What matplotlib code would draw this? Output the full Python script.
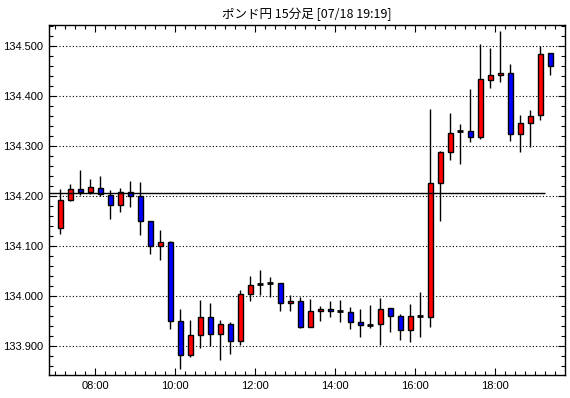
import matplotlib
matplotlib.use("Agg")
import matplotlib.pyplot as plt
import numpy as np
import pandas as pd
from matplotlib.ticker import MultipleLocator, FixedLocator

title = "ポンド円 15分足 [07/18 19:19]"
times = pd.date_range("2024-07-18 07:00", periods=50, freq="15min")
opens = [134.137, 134.193, 134.215, 134.209, 134.217, 134.203, 134.183, 134.209, 134.201, 134.151,
         134.101, 134.109, 133.951, 133.882, 133.923, 133.959, 133.925, 133.945, 133.911, 134.005,
         134.024, 134.026, 134.027, 133.987, 133.991, 133.939, 133.971, 133.975, 133.970, 133.969,
         133.949, 133.943, 133.945, 133.977, 133.961, 133.933, 133.960, 133.959, 134.227, 134.289,
         134.330, 134.331, 134.319, 134.433, 134.443, 134.447, 134.325, 134.347, 134.362, 134.487]
highs = [134.215, 134.224, 134.252, 134.234, 134.241, 134.212, 134.217, 134.230, 134.229, 134.151,
         134.132, 134.111, 133.975, 133.953, 133.992, 133.987, 133.952, 133.949, 134.012, 134.040,
         134.052, 134.038, 134.027, 134.002, 133.999, 133.995, 133.980, 133.990, 133.992, 133.979,
         133.975, 133.983, 133.997, 133.977, 133.965, 133.985, 134.009, 134.374, 134.291, 134.367,
         134.344, 134.414, 134.504, 134.497, 134.530, 134.465, 134.363, 134.372, 134.501, 134.487]
lows = [134.125, 134.191, 134.203, 134.205, 134.200, 134.155, 134.169, 134.179, 134.123, 134.085,
        134.073, 133.935, 133.855, 133.879, 133.897, 133.901, 133.873, 133.885, 133.902, 133.991,
        134.002, 133.998, 133.971, 133.971, 133.937, 133.939, 133.951, 133.959, 133.949, 133.934,
        133.919, 133.937, 133.902, 133.929, 133.913, 133.909, 133.919, 133.939, 134.151, 134.272,
        134.265, 134.309, 134.315, 134.417, 134.429, 134.311, 134.289, 134.299, 134.353, 134.442]
closes = [134.193, 134.215, 134.209, 134.217, 134.204, 134.183, 134.209, 134.201, 134.151, 134.101,
          134.109, 133.951, 133.882, 133.923, 133.959, 133.925, 133.945, 133.911, 134.005, 134.023,
          134.024, 134.026, 133.987, 133.991, 133.939, 133.971, 133.975, 133.971, 133.970, 133.949,
          133.943, 133.943, 133.975, 133.961, 133.933, 133.961, 133.960, 134.227, 134.289, 134.327,
          134.330, 134.319, 134.434, 134.443, 134.447, 134.325, 134.347, 134.361, 134.485, 134.461]
ref_level = 134.207
ref_end = "19:15"
x_tick_labels = ["08:00", "10:00", "12:00", "14:00", "16:00", "18:00"]
y_tick_values = [133.9, 134.0, 134.1, 134.2, 134.3, 134.4, 134.5]

def to_min(s):
    h, m = s.split(":")
    return int(h) * 60 + int(m)

fig = plt.figure(figsize=(5.70, 3.98), dpi=100)
ax = fig.add_axes([49 / 570, 23 / 398, 516 / 570, 350 / 398])

x = np.array([t.hour * 60 + t.minute + 7.5 for t in times])
o = np.array(opens); h = np.array(highs); l = np.array(lows); c = np.array(closes)

ax.vlines(x, l, h, color="black", lw=1.0, zorder=2)
for xi, oi, ci in zip(x, o, c):
    if abs(ci - oi) < 0.0015:
        ax.hlines(oi, xi - 4.5, xi + 4.5, color="black", lw=2.0, zorder=3)
    else:
        col = "#ff0000" if ci > oi else "#0000ff"
        ax.bar(xi, ci - oi, bottom=oi, width=8, color=col, edgecolor="black",
               linewidth=1.0, zorder=3)

ax.set_xlim(410.6, 1184.6)
ax.set_ylim(133.842, 134.542)
ax.hlines(ref_level, 410.6, to_min(ref_end), color="black", lw=1.0, zorder=4)

ax.yaxis.set_major_locator(FixedLocator(y_tick_values))
ax.set_yticklabels([f"{v:.3f}" for v in y_tick_values])
ax.yaxis.set_minor_locator(MultipleLocator(0.02))
ax.xaxis.set_major_locator(FixedLocator([to_min(s) for s in x_tick_labels]))
ax.set_xticklabels(x_tick_labels)
ax.xaxis.set_minor_locator(MultipleLocator(15))

ax.grid(axis="y", which="major", color="black", linestyle=(0, (1, 2)), lw=0.8, zorder=1)
ax.tick_params(which="both", direction="in", top=True, right=True, width=0.8,
               labelsize=8, colors="black")
ax.tick_params(which="major", length=5, pad=4)
ax.tick_params(which="minor", length=3)
for lab in ax.get_xticklabels() + ax.get_yticklabels():
    lab.set_family(["Liberation Sans", "DejaVu Sans"])
for sp in ax.spines.values():
    sp.set_linewidth(1.0)
    sp.set_color("black")

ax.set_title(title, fontsize=9, family=["Noto Sans CJK JP", "DejaVu Sans"], pad=5)

fig.savefig("out.png", dpi=100, facecolor="white")
